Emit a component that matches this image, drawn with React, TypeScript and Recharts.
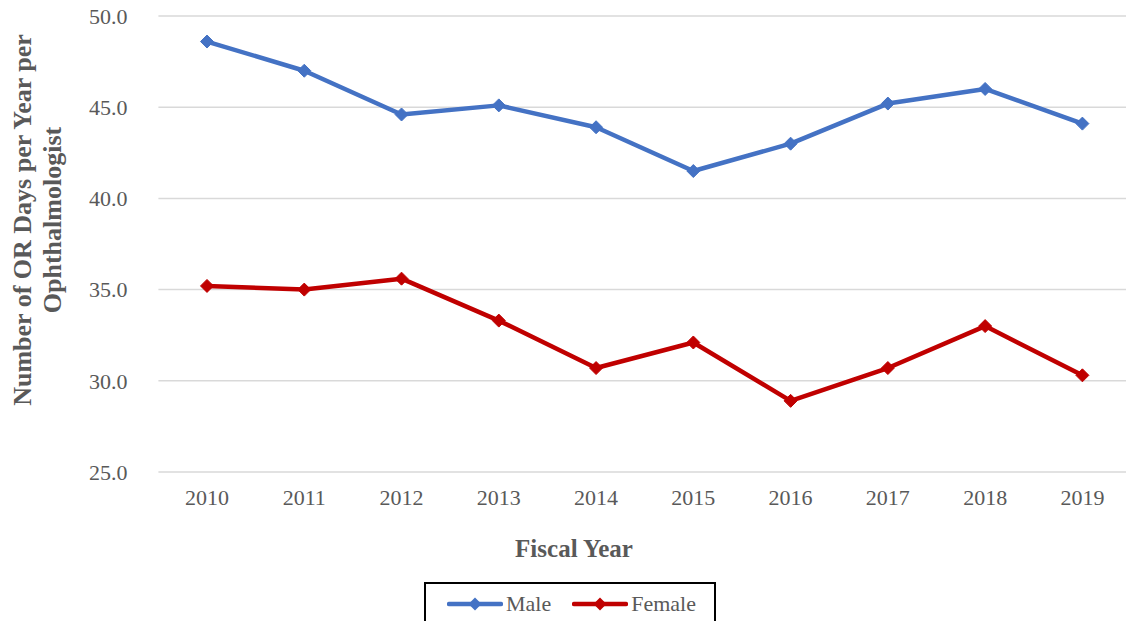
import React from "react";
import { LineChart, Line, XAxis, YAxis, CartesianGrid, Legend } from "recharts";

const years = ["2010", "2011", "2012", "2013", "2014", "2015", "2016", "2017", "2018", "2019"];
const maleValues = [48.6, 47.0, 44.6, 45.1, 43.9, 41.5, 43.0, 45.2, 46.0, 44.1];
const femaleValues = [35.2, 35.0, 35.6, 33.3, 30.7, 32.1, 28.9, 30.7, 33.0, 30.3];
const yTicks = [25, 30, 35, 40, 45, 50];

const MALE_COLOR = "#4472C4";
const FEMALE_COLOR = "#C00000";
const TEXT_COLOR = "#595959";
const FONT = "'Liberation Serif', 'Times New Roman', serif";

const data = years.map((y, i) => ({ year: y, male: maleValues[i], female: femaleValues[i] }));

const makeDiamond = (color: string) => (props: any) => {
  const { cx, cy, index } = props;
  if (cx == null || cy == null) return <g key={`d-${index}`} />;
  const r = 6.5;
  return (
    <polygon
      key={`d-${color}-${index}`}
      points={`${cx},${cy - r} ${cx + r},${cy} ${cx},${cy + r} ${cx - r},${cy}`}
      fill={color}
      stroke={color}
      strokeWidth={1}
    />
  );
};

const LegendIcon = ({ color }: { color: string }) => (
  <svg width={56} height={16} style={{ display: "block" }}>
    <line x1={2} y1={8} x2={54} y2={8} stroke={color} strokeWidth={4.5} strokeLinecap="round" />
    <polygon points="28,1.5 34.5,8 28,14.5 21.5,8" fill={color} />
  </svg>
);

const renderLegend = () => (
  <div
    style={{
      boxSizing: "border-box",
      width: 292,
      height: 60,
      border: "2px solid #000",
      background: "#fff",
      display: "flex",
      alignItems: "flex-start",
      paddingLeft: 21,
      paddingTop: 10,
      fontFamily: FONT,
      fontSize: 22,
      color: TEXT_COLOR,
    }}
  >
    <div style={{ display: "flex", alignItems: "center", height: 20 }}>
      <LegendIcon color={MALE_COLOR} />
      <span style={{ marginLeft: 3, lineHeight: "20px" }}>Male</span>
    </div>
    <div style={{ display: "flex", alignItems: "center", height: 20, marginLeft: 21 }}>
      <LegendIcon color={FEMALE_COLOR} />
      <span style={{ marginLeft: 3, lineHeight: "20px" }}>Female</span>
    </div>
  </div>
);

const renderYLabel = (props: any) => {
  const vb = props.viewBox || {};
  const cy = (vb.y ?? 16) + (vb.height ?? 456) / 2 - 24;
  const x1 = 22;
  const x2 = 52;
  const common = {
    textAnchor: "middle" as const,
    dominantBaseline: "central" as const,
    fontFamily: FONT,
    fontWeight: 700,
    fontSize: 26,
    fill: TEXT_COLOR,
  };
  return (
    <g>
      <text x={x1} y={cy} transform={`rotate(-90, ${x1}, ${cy})`} {...common}>
        Number of OR Days per Year per
      </text>
      <text x={x2} y={cy} transform={`rotate(-90, ${x2}, ${cy})`} {...common}>
        Ophthalmologist
      </text>
    </g>
  );
};

const renderXLabel = (props: any) => {
  const vb = props.viewBox || {};
  const y = (vb.y ?? 472) + 76;
  return (
    <text
      x={574}
      y={y}
      textAnchor="middle"
      dominantBaseline="central"
      fontFamily={FONT}
      fontWeight={700}
      fontSize={25}
      fill={TEXT_COLOR}
    >
      Fiscal Year
    </text>
  );
};

export default function App() {
  return (
    <div style={{ position: "absolute", left: 0, top: 0, width: 1126, height: 621, overflow: "hidden", background: "#fff" }}>
      <LineChart
        width={1131}
        height={621}
        data={data}
        margin={{ top: 16, right: 0, bottom: 59, left: 0 }}
      >
        <CartesianGrid vertical={false} stroke="#d9d9d9" strokeWidth={1.5} />
        <XAxis
          dataKey="year"
          axisLine={false}
          tickLine={false}
          tickSize={0}
          tickMargin={17}
          height={90}
          interval={0}
          padding={{ left: 48.6, right: 48.6 }}
          tick={{ fill: TEXT_COLOR, fontSize: 22, fontFamily: FONT }}
          label={{ content: renderXLabel }}
        />
        <YAxis
          width={158.4}
          domain={[25, 50]}
          ticks={yTicks}
          axisLine={false}
          tickLine={false}
          tickSize={0}
          tickMargin={31}
          tickFormatter={(v: number) => v.toFixed(1)}
          tick={{ fill: TEXT_COLOR, fontSize: 22, fontFamily: FONT }}
          label={{ content: renderYLabel }}
        />
        <Legend
          layout="horizontal"
          verticalAlign="middle"
          align="center"
          content={renderLegend}
          wrapperStyle={{ left: 424, top: 582, width: 292, height: 60 }}
        />
        <Line
          type="linear"
          dataKey="male"
          name="Male"
          stroke={MALE_COLOR}
          strokeWidth={4.5}
          strokeLinejoin="round"
          dot={makeDiamond(MALE_COLOR)}
          activeDot={false}
          isAnimationActive={false}
        />
        <Line
          type="linear"
          dataKey="female"
          name="Female"
          stroke={FEMALE_COLOR}
          strokeWidth={4.5}
          strokeLinejoin="round"
          dot={makeDiamond(FEMALE_COLOR)}
          activeDot={false}
          isAnimationActive={false}
        />
      </LineChart>
    </div>
  );
}
